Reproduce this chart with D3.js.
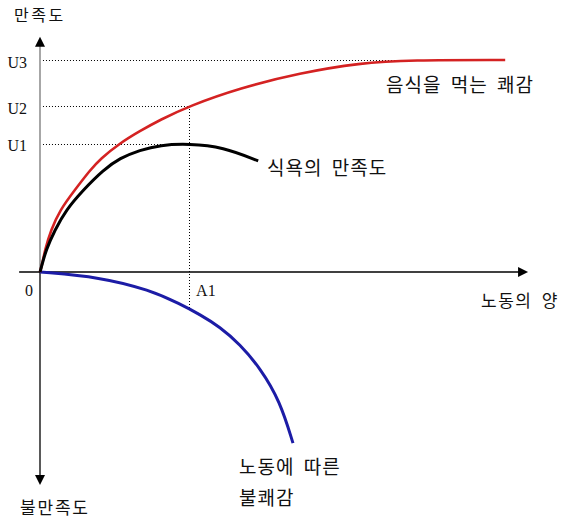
<!DOCTYPE html>
<html>
<head>
<meta charset="utf-8">
<script src="https://cdn.jsdelivr.net/npm/d3@7"></script>
<style>
  body { margin: 0; background: #fff; }
  svg { display: block; }
  .kr { font-family: "Noto Sans CJK KR", sans-serif; fill: #111; letter-spacing: 1px; word-spacing: 4px; }
  .lat { font-family: "Liberation Serif", serif; font-size: 16px; fill: #111; }
</style>
</head>
<body>
<svg id="canvas"></svg>
<script>
let width = 563
let height = 520

// curves, in chart units (x: amount of labour, y: satisfaction)
let pleasureX = [0, 0.04, 0.10, 0.22, 0.40, 0.70, 1.01, 1.21, 1.61, 2.01, 2.41, 3.0, 4.02, 5.23, 6.44, 7.44, 9.36]
let pleasureY = [0, 0.33, 1.04, 1.98, 2.92, 3.87, 4.81, 5.33, 6.08, 6.65, 7.17, 7.83, 8.68, 9.39, 9.86, 10, 10]

let appetiteX = [0, 0.04, 0.12, 0.30, 0.52, 0.87, 1.27, 1.61, 2.01, 2.41, 3.0, 3.68, 4.39]
let appetiteY = [0, 0.33, 1.04, 1.98, 2.92, 3.87, 4.81, 5.38, 5.75, 5.99, 6.05, 5.90, 5.24]

let painX = [0, 1.21, 2.21, 2.82, 3.22, 3.62, 4.02, 4.43, 4.83, 5.09]
let painY = [0, -0.24, -0.85, -1.51, -2.01, -2.59, -3.40, -4.53, -6.09, -8.07]

let uLabels = ['U1', 'U2', 'U3']
let uValues = [6.05, 7.83, 10]
let a1Value = 3.0
let a1Low = -1.75
let u3End = 7.44

let canvas = d3.select('#canvas')
canvas.attr('width', width)
canvas.attr('height', height)

let xScale = d3.scaleLinear().domain([0, 10]).range([40, 537])
let yScale = d3.scaleLinear().domain([-10, 10]).range([484, 60])

let toPoints = (xs, ys) => xs.map((x, i) => [x, ys[i]])

let line = d3.line()
    .x((d) => xScale(d[0]))
    .y((d) => yScale(d[1]))
    .curve(d3.curveBasis)

// dotted guide lines
let dotted = canvas.append('g')
    .attr('stroke', '#000')
    .attr('stroke-width', 1)
    .attr('stroke-dasharray', '1,2')

uValues.forEach((u, i) => {
    dotted.append('line')
        .attr('x1', xScale(0.06))
        .attr('x2', xScale(i == 2 ? u3End : a1Value))
        .attr('y1', Math.round(yScale(u)) + 0.5)
        .attr('y2', Math.round(yScale(u)) + 0.5)
})
dotted.append('line')
    .attr('x1', Math.round(xScale(a1Value)) + 0.5)
    .attr('x2', Math.round(xScale(a1Value)) + 0.5)
    .attr('y1', yScale(uValues[1]))
    .attr('y2', yScale(a1Low))

// axes
let arrow = (x, y, dir) => {
    let s = 5, l = 10
    let pts
    if (dir == 'up') pts = [[x, y], [x - s, y + l], [x + s, y + l]]
    else if (dir == 'down') pts = [[x, y], [x - s, y - l], [x + s, y - l]]
    else pts = [[x, y], [x - l, y - s], [x - l, y + s]]
    canvas.append('polygon').attr('points', pts.join(' ')).attr('fill', '#000')
}

canvas.append('line')
    .attr('x1', xScale(0)).attr('x2', xScale(0))
    .attr('y1', yScale(10.9)).attr('y2', yScale(0))
    .attr('stroke', '#777').attr('stroke-width', 1.3)
canvas.append('line')
    .attr('x1', xScale(0)).attr('x2', xScale(0))
    .attr('y1', yScale(0)).attr('y2', yScale(-9.9))
    .attr('stroke', '#000').attr('stroke-width', 1.3)
canvas.append('line')
    .attr('x1', xScale(-0.42)).attr('x2', xScale(9.7))
    .attr('y1', yScale(0)).attr('y2', yScale(0))
    .attr('stroke', '#000').attr('stroke-width', 1.3)
arrow(xScale(0), yScale(11.1), 'up')
arrow(xScale(0), yScale(-10.05), 'down')
arrow(xScale(9.82), yScale(0), 'right')

// U tick labels
let yAxis = d3.axisLeft(yScale)
    .tickValues(uValues)
    .tickFormat((d, i) => uLabels[i])
    .tickSize(0)
    .tickPadding(13)

let yg = canvas.append('g')
    .attr('transform', `translate(${xScale(0)}, 0)`)
    .call(yAxis)
yg.select('.domain').remove()
yg.selectAll('text')
    .attr('class', 'lat')
    .attr('font-family', null)
    .attr('font-size', null)
    .attr('dy', '0.45em')

canvas.append('text').attr('class', 'lat')
    .attr('x', xScale(0) - 15).attr('y', yScale(0) + 24).text('0')
canvas.append('text').attr('class', 'lat')
    .attr('x', xScale(a1Value) + 7).attr('y', yScale(0) + 24).text('A1')

// curves
canvas.append('path')
    .attr('d', line(toPoints(painX, painY)))
    .attr('fill', 'none').attr('stroke', '#1c1ca6').attr('stroke-width', 3)
canvas.append('path')
    .attr('d', line(toPoints(pleasureX, pleasureY)))
    .attr('fill', 'none').attr('stroke', '#d42222').attr('stroke-width', 2.6)
canvas.append('path')
    .attr('d', line(toPoints(appetiteX, appetiteY)))
    .attr('fill', 'none').attr('stroke', '#000').attr('stroke-width', 3)

// texts
let label = (x, y, t, size, ls) => canvas.append('text').attr('class', 'kr')
    .attr('x', x).attr('y', y)
    .style('font-size', size + 'px')
    .style('letter-spacing', ls + 'px')
    .text(t)

label(14, 21, '만족도', 16, 2.5)
label(20, 514, '불만족도', 17, 1.8)
label(481, 307, '노동의 양', 17, 1.5)
label(386, 92, '음식을 먹는 쾌감', 19, 1)
label(267, 175, '식욕의 만족도', 19, 1)
label(239, 474, '노동에 따른', 19, 1)
label(239, 505, '불쾌감', 19, 1)
</script>
</body>
</html>
